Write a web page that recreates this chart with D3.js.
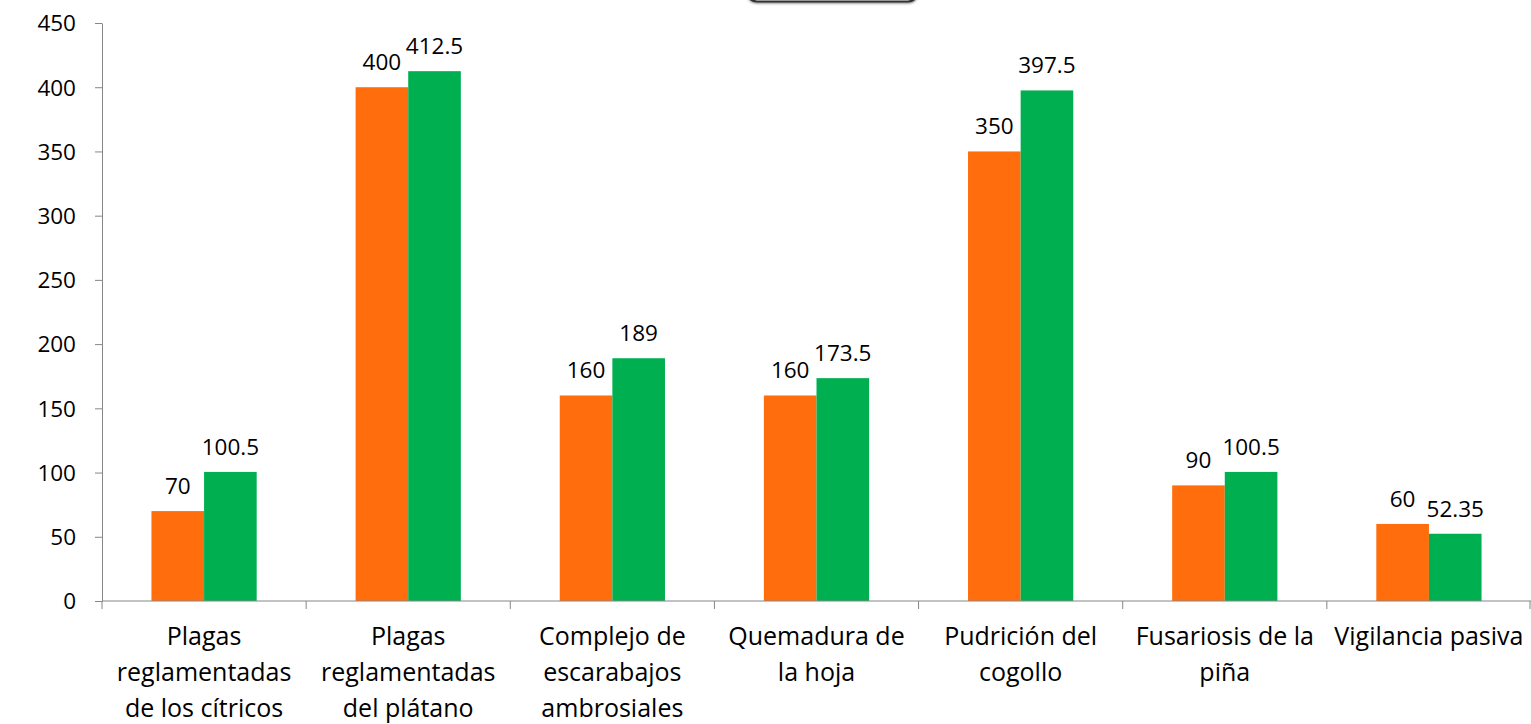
<!DOCTYPE html>
<html>
<head>
<meta charset="utf-8">
<script src="https://cdn.jsdelivr.net/npm/d3@7"></script>
<style>
  html, body { margin: 0; padding: 0; background: #fff; }
  svg { display: block; }
  svg text { font-family: "Open Sans", sans-serif; fill: #000; }
</style>
</head>
<body>
<div id="chart"></div>
<script>
'use strict';
// data
var categories = [
    ['Plagas', 'reglamentadas', 'de los cítricos'],
    ['Plagas', 'reglamentadas', 'del plátano'],
    ['Complejo de', 'escarabajos', 'ambrosiales'],
    ['Quemadura de', 'la hoja'],
    ['Pudrición del', 'cogollo'],
    ['Fusariosis de la', 'piña'],
    ['Vigilancia pasiva']
];
var seriesA = [70, 400, 160, 160, 350, 90, 60];
var seriesB = [100.5, 412.5, 189, 173.5, 397.5, 100.5, 52.35];
var yTicks = [0, 50, 100, 150, 200, 250, 300, 350, 400, 450];

var colors = ['#FF6D0D', '#00B050'];
var width = 1531, height = 724;
var margin = { top: 23, right: 0, bottom: 123, left: 102 };

var svg = d3.select('#chart').append('svg')
    .attr('width', width)
    .attr('height', height);

// bottom edge of the (cropped) title box
var defs = svg.append('defs');
var f = defs.append('filter').attr('id', 'sh').attr('x', '-10%').attr('y', '-50%').attr('width', '120%').attr('height', '200%');
f.append('feDropShadow').attr('dx', 0).attr('dy', 1).attr('stdDeviation', 1.2).attr('flood-color', '#000').attr('flood-opacity', 0.5);
svg.append('rect')
    .attr('x', 747).attr('y', -40).attr('width', 171).attr('height', 41.5)
    .attr('rx', 10)
    .attr('fill', '#fff').attr('stroke', '#333').attr('stroke-width', 2)
    .attr('filter', 'url(#sh)');

var idx = d3.range(categories.length);
var x = d3.scaleBand()
    .domain(idx)
    .range([margin.left, width - margin.right])
    .paddingInner(0)
    .paddingOuter(0);
var inner = d3.scaleBand()
    .domain([0, 1])
    .range([0, x.bandwidth()])
    .paddingInner(0)
    .paddingOuter(0.94);
var y = d3.scaleLinear()
    .domain([0, 450])
    .range([height - margin.bottom, margin.top]);

var g = svg.append('g');
var axisColor = '#868686';

// bars
var series = [seriesA, seriesB];
series.forEach(function (vals, s) {
    g.selectAll('.bar' + s)
        .data(vals)
        .enter().append('rect')
        .attr('x', function (d, i) { return x(i) + inner(s); })
        .attr('y', function (d) { return y(d); })
        .attr('width', inner.bandwidth())
        .attr('height', function (d) { return y(0) - y(d); })
        .attr('fill', colors[s]);

    g.selectAll('.lbl' + s)
        .data(vals)
        .enter().append('text')
        .attr('x', function (d, i) { return x(i) + inner(s) + inner.bandwidth() / 2; })
        .attr('y', function (d) { return y(d) - 17; })
        .attr('text-anchor', 'middle')
        .style('font-size', '22.5px')
        .text(function (d) { return d; });
});

// y axis
var yAxis = g.append('g')
    .attr('transform', 'translate(' + margin.left + ',0)')
    .call(d3.axisLeft(y).tickValues(yTicks).tickSize(7).tickPadding(19).tickSizeOuter(0));
yAxis.attr('font-family', null).attr('font-size', null);
yAxis.select('.domain').attr('stroke', axisColor);
yAxis.selectAll('line').attr('stroke', axisColor);
yAxis.selectAll('text').style('font-size', '22.5px').attr('dy', '0.35em');

// x axis line + boundary ticks
var xAxis = g.append('g');
xAxis.append('line')
    .attr('x1', margin.left).attr('x2', width)
    .attr('y1', y(0)).attr('y2', y(0))
    .attr('stroke', axisColor);
xAxis.selectAll('.xt')
    .data(d3.range(categories.length + 1))
    .enter().append('line')
    .attr('x1', function (d) { return d < categories.length ? x(d) : width - 1; })
    .attr('x2', function (d) { return d < categories.length ? x(d) : width - 1; })
    .attr('y1', y(0)).attr('y2', y(0) + 8)
    .attr('stroke', axisColor);

// category labels
var catG = xAxis.selectAll('.cat')
    .data(categories)
    .enter().append('text')
    .attr('text-anchor', 'middle')
    .style('font-size', '25px');
catG.selectAll('tspan')
    .data(function (d, i) { return d.map(function (t) { return { t: t, i: i }; }); })
    .enter().append('tspan')
    .attr('x', function (d) { return x(d.i) + x.bandwidth() / 2; })
    .attr('y', function (d, k) { return y(0) + 44 + k * 36; })
    .text(function (d) { return d.t; });
</script>
</body>
</html>
